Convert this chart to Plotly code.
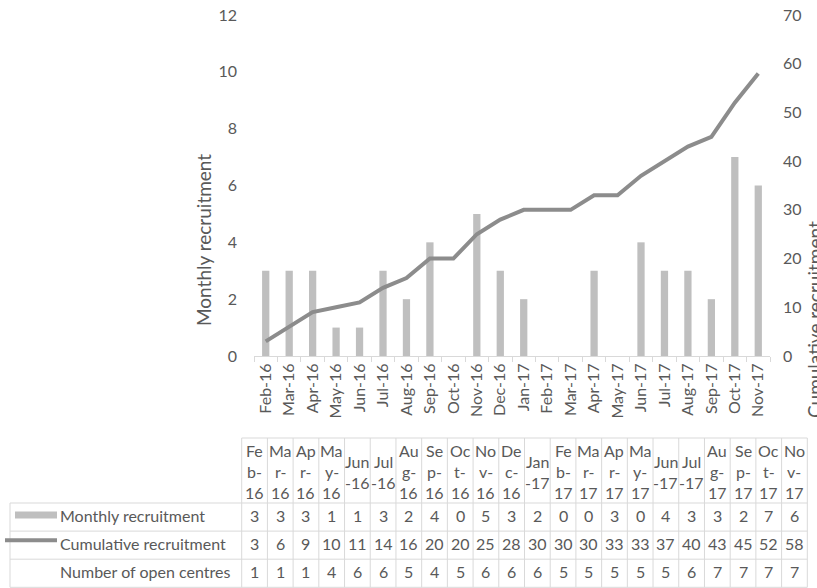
import plotly.graph_objects as go

# ---------------- data ----------------
months = ["Feb-16", "Mar-16", "Apr-16", "May-16", "Jun-16", "Jul-16", "Aug-16", "Sep-16",
          "Oct-16", "Nov-16", "Dec-16", "Jan-17", "Feb-17", "Mar-17", "Apr-17", "May-17",
          "Jun-17", "Jul-17", "Aug-17", "Sep-17", "Oct-17", "Nov-17"]
monthly = [3, 3, 3, 1, 1, 3, 2, 4, 0, 5, 3, 2, 0, 0, 3, 0, 4, 3, 3, 2, 7, 6]
cumulative = [3, 6, 9, 10, 11, 14, 16, 20, 20, 25, 28, 30, 30, 30, 33, 33, 37, 40, 43, 45, 52, 58]
open_centres = [1, 1, 1, 4, 6, 6, 5, 4, 5, 6, 6, 6, 5, 5, 5, 5, 5, 6, 7, 7, 7, 7]
row_names = ["Monthly recruitment", "Cumulative recruitment", "Number of open centres"]
left_title = "Monthly recruitment"
right_title = "Cumulative recruitment"

# ---------------- style ----------------
W, H = 817, 588
FONT = "Lato"
TXT = "#595959"
BAR_C = "#bfbfbf"
LINE_C = "#8c8c8c"
GRID_C = "#d9d9d9"
TS = 16   # tick / table font size


def px(x):
    return x / W


def py(y):
    return 1 - y / H


X0, X1 = 254, 770      # plot area (pixels)
Y0, Y1 = 356, 15

fig = go.Figure()
fig.add_trace(go.Bar(x=months, y=monthly, marker_color=BAR_C, marker_line_width=0,
                     name=row_names[0], yaxis="y"))
fig.add_trace(go.Scatter(x=months, y=cumulative, mode="lines", name=row_names[1],
                         line=dict(color=LINE_C, width=4), yaxis="y2"))

shapes = []
ann = []

# ---------------- data table ----------------
TL, TR = 241.7, 807.3   # category column area
LL = 10                 # legend column left
HT, HB = 438, 503       # header top / bottom
RH = 28.1               # row height
n = len(months)
cw = (TR - TL) / n
line_style = dict(color=GRID_C, width=1)

shapes.append(dict(type="line", xref="paper", yref="paper", x0=px(TL), x1=px(TR),
                   y0=py(HT), y1=py(HT), line=line_style))
for k in range(4):
    yy = HB + k * RH
    shapes.append(dict(type="line", xref="paper", yref="paper", x0=px(LL), x1=px(TR),
                       y0=py(yy), y1=py(yy), line=line_style))
for i in range(n + 1):
    xx = TL + i * cw
    shapes.append(dict(type="line", xref="paper", yref="paper", x0=px(xx), x1=px(xx),
                       y0=py(HT), y1=py(HB + 3 * RH), line=line_style))
shapes.append(dict(type="line", xref="paper", yref="paper", x0=px(LL), x1=px(LL),
                   y0=py(HB), y1=py(HB + 3 * RH), line=line_style))


def header_lines(label):
    mon, yr = label.split("-")
    if mon.startswith("J"):
        return [mon, "-" + yr]
    return [mon[:2], mon[2:] + "-", yr]


LSP = 21.0
for i, m in enumerate(months):
    cx = TL + (i + 0.5) * cw
    lines = header_lines(m)
    mid = (HT + HB) / 2 + 1
    start = mid - (len(lines) - 1) * LSP / 2
    for j, t in enumerate(lines):
        ann.append(dict(x=px(cx), y=py(start + j * LSP), xref="paper", yref="paper",
                        text=t, showarrow=False, xanchor="center", yanchor="middle",
                        font=dict(family=FONT, size=TS, color=TXT)))
    for r, vals in enumerate([monthly, cumulative, open_centres]):
        ann.append(dict(x=px(cx), y=py(HB + (r + 0.5) * RH - 1.5), xref="paper", yref="paper",
                        text=str(vals[i]), showarrow=False, xanchor="center", yanchor="middle",
                        font=dict(family=FONT, size=TS, color=TXT)))

for r, name in enumerate(row_names):
    ann.append(dict(x=px(58), y=py(HB + (r + 0.5) * RH - 2), xref="paper", yref="paper",
                    text=name, showarrow=False, xanchor="left", yanchor="middle",
                    font=dict(family=FONT, size=TS, color=TXT)))

# legend keys
ry = HB + 0.5 * RH - 2
shapes.append(dict(type="rect", xref="paper", yref="paper", x0=px(15), x1=px(57),
                   y0=py(ry - 3.5), y1=py(ry + 3.5), fillcolor=BAR_C, line=dict(width=0)))
ry2 = HB + 1.5 * RH - 5
shapes.append(dict(type="line", xref="paper", yref="paper", x0=px(5), x1=px(57),
                   y0=py(ry2), y1=py(ry2), line=dict(color=LINE_C, width=4)))

# axis titles
ann.append(dict(x=px(203), y=py(240), xref="paper", yref="paper", text=left_title,
                showarrow=False, textangle=-90, xanchor="center", yanchor="middle",
                font=dict(family=FONT, size=19, color=TXT)))
ann.append(dict(x=px(814), y=py(320), xref="paper", yref="paper", text=right_title,
                showarrow=False, textangle=-90, xanchor="center", yanchor="middle",
                font=dict(family=FONT, size=19, color=TXT)))

fig.update_layout(
    width=W, height=H,
    margin=dict(l=0, r=0, t=0, b=0),
    paper_bgcolor="white", plot_bgcolor="white",
    showlegend=False,
    bargap=0.69,
    font=dict(family=FONT, color=TXT),
    xaxis=dict(domain=[px(X0), px(X1)], type="category", tickangle=-90,
               showline=True, linecolor=GRID_C, linewidth=1,
               ticks="outside", ticklen=5, tickcolor=GRID_C, tickson="boundaries",
               showgrid=False, tickfont=dict(family=FONT, size=TS, color=TXT),
               automargin=False),
    yaxis=dict(domain=[py(Y0), py(Y1)], range=[0, 12], dtick=2, showgrid=False,
               zeroline=False, showline=False, ticks="", ticklabelstandoff=16,
               tickfont=dict(family=FONT, size=TS, color=TXT), automargin=False),
    yaxis2=dict(overlaying="y", side="right", range=[0, 70], dtick=10, showgrid=False,
                zeroline=False, showline=False, ticks="", ticklabelstandoff=12,
                tickfont=dict(family=FONT, size=TS, color=TXT), automargin=False),
    shapes=shapes,
    annotations=ann,
)

fig.write_html("out.html", config={"displayModeBar": False},
               post_script="document.body.style.margin='0px';")
